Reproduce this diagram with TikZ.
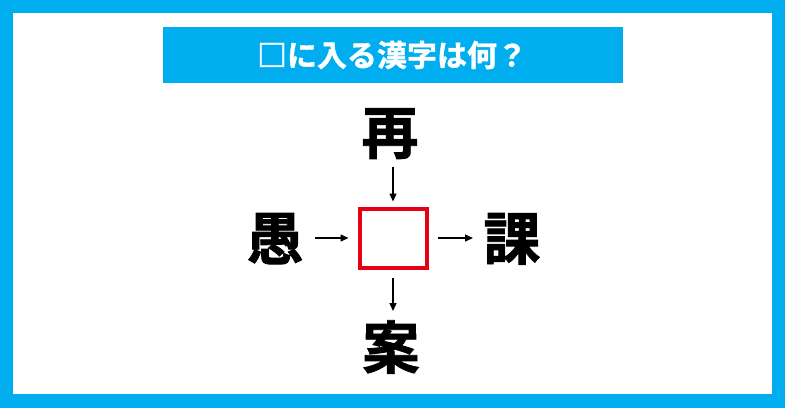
\documentclass[tikz,border=0pt]{standalone}
\usepackage{fontspec}
\newfontfamily\cjkb[FakeBold=1.5]{Noto Sans CJK JP Bold}
\usetikzlibrary{arrows.meta}
\definecolor{skyblue}{HTML}{00AEEF}
\definecolor{boxred}{HTML}{E60012}
\tikzset{
  bigchar/.style={font=\cjkb\fontsize{57}{57}\selectfont, inner sep=0pt, outer sep=0pt, text height=50.2pt, text depth=6.8pt},
  arr/.style={-{Triangle[length=8pt,width=7pt]}, line width=1.4pt, black},
  blankbox/.style={draw=boxred, line width=4pt, minimum width=67pt, minimum height=59pt, inner sep=0pt, fill=white},
  titlebar/.style={fill=skyblue, draw=none, minimum width=460pt, minimum height=56pt, inner sep=0pt},
}
\begin{document}
\begin{tikzpicture}[x=1pt,y=-1pt]
\useasboundingbox (0,0) rectangle (785,408);
\fill[skyblue] (0,0) rectangle (785,408);
\fill[white] (13,13) rectangle (772,394);
\node[titlebar] (bar) at (393,55) {};
\node[font=\cjkb\fontsize{30}{30}\selectfont, text=white, inner sep=0pt, text height=26.4pt, text depth=3.6pt] (title) at (392,55) {□に入る漢字は何？};
\node[blankbox] (box) at (393,238) {};
\node[bigchar] (top) at (390,132) {再};
\node[bigchar] (left) at (275,238) {愚};
\node[bigchar] (right) at (512,238) {課};
\node[bigchar] (bottom) at (391,347) {案};
\coordinate (tstart) at (393,167);
\coordinate (lstart) at (315,238);
\coordinate (rend) at (473,238);
\coordinate (bend) at (393,311);
\draw[arr] (tstart) -- ([yshift=5pt]box.north);
\draw[arr] (lstart) -- ([xshift=-9pt]box.west);
\draw[arr] ([xshift=9pt]box.east) -- (rend);
\draw[arr] ([yshift=-8pt]box.south) -- (bend);
\end{tikzpicture}
\end{document}
